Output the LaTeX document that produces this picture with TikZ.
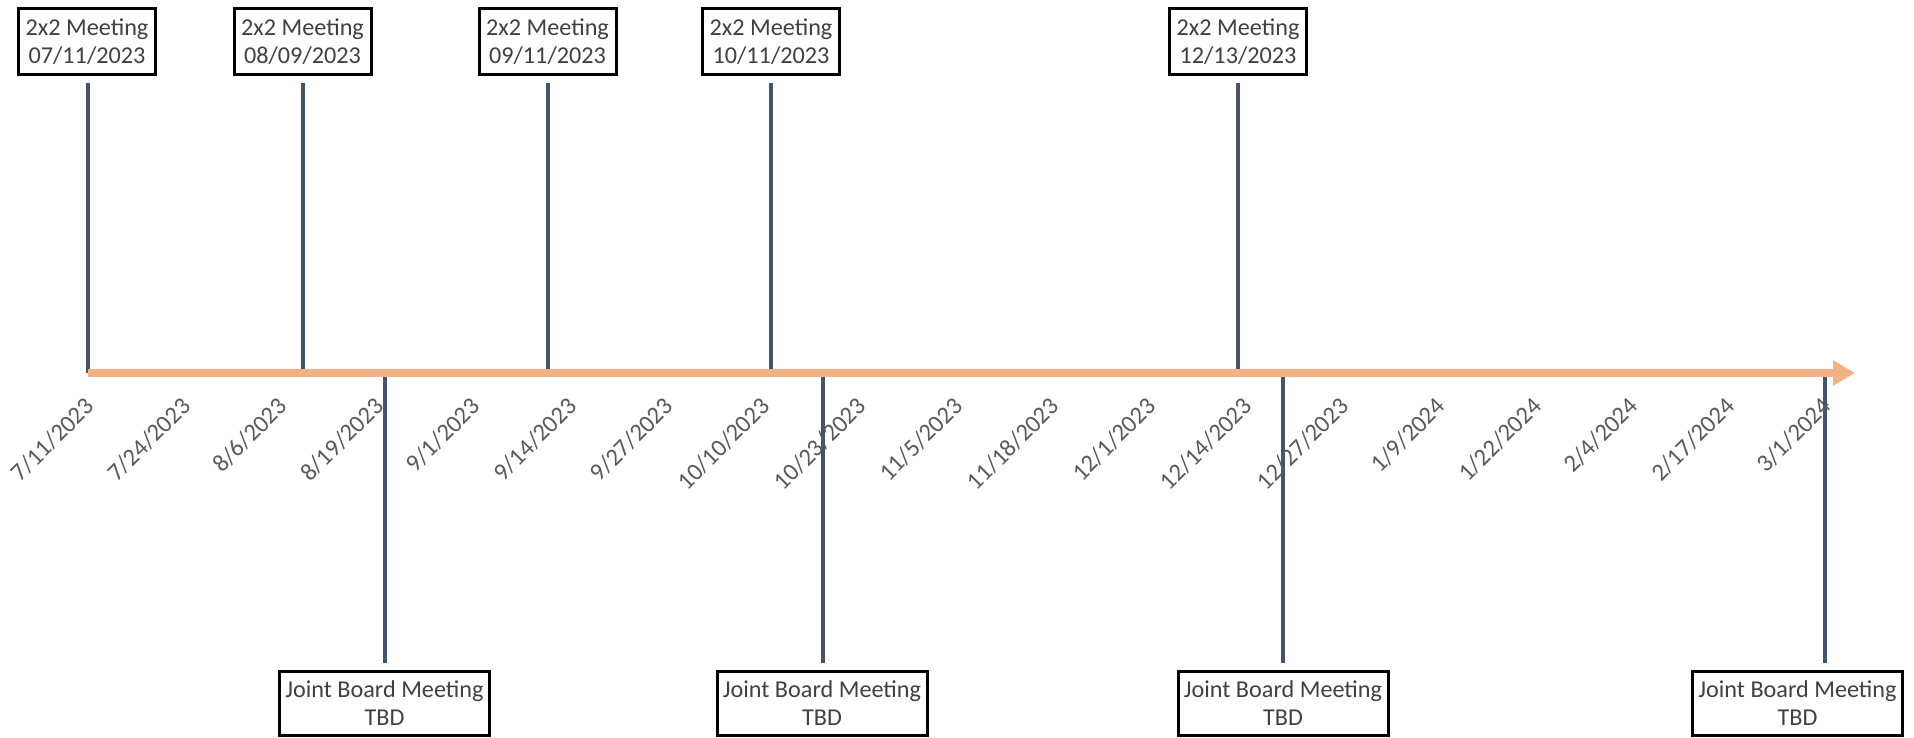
\documentclass[tikz,border=0pt]{standalone}
\usepackage{fontspec}
\setmainfont{Carlito}
\usetikzlibrary{arrows.meta}
\definecolor{vl}{HTML}{44546A}
\definecolor{ax}{HTML}{F4B183}
\definecolor{txt}{HTML}{404040}
\definecolor{lbl}{HTML}{595959}
\begin{document}
\begin{tikzpicture}[x=1pt,y=-1pt,
  topbox/.style={draw=black, line width=3pt, fill=white, minimum width=137pt, minimum height=66pt, inner sep=0pt, align=center, text=txt, font=\fontsize{24.2}{28}\selectfont},
  botbox/.style={draw=black, line width=3pt, fill=white, minimum width=210pt, minimum height=64pt, inner sep=0pt, align=center, text=txt, font=\fontsize{24.2}{28}\selectfont},
  vline/.style={draw=vl, line width=4pt},
  axisline/.style={draw=ax, line width=8pt, -{Triangle[length=22pt,width=24pt]}},
  datelbl/.style={rotate=45, anchor=east, inner sep=0pt, text=lbl, font=\fontsize{24.5}{28}\selectfont}]
\useasboundingbox (0,0) rectangle (1914,738);

% axis reference points
\coordinate (a0) at (88,373);
\coordinate (aend) at (1855,373);
\coordinate (at1) at (88,373);
\coordinate (at2) at (303,373);
\coordinate (at3) at (548,373);
\coordinate (at4) at (771,373);
\coordinate (at5) at (1238,373);
\coordinate (ab1) at (385,373);
\coordinate (ab2) at (823,373);
\coordinate (ab3) at (1283,373);
\coordinate (ab4) at (1825,373);

% top boxes
\node[topbox] (t1) at (87,41.5) {2x2 Meeting\\07/11/2023};
\node[topbox] (t2) at (302.5,41.5) {2x2 Meeting\\08/09/2023};
\node[topbox] (t3) at (547.5,41.5) {2x2 Meeting\\09/11/2023};
\node[topbox] (t4) at (771,41.5) {2x2 Meeting\\10/11/2023};
\node[topbox] (t5) at (1238,41.5) {2x2 Meeting\\12/13/2023};

% bottom boxes
\node[botbox] (b1) at (384.5,703.5) {Joint Board Meeting\\TBD};
\node[botbox] (b2) at (822,703.5) {Joint Board Meeting\\TBD};
\node[botbox] (b3) at (1283,703.5) {Joint Board Meeting\\TBD};
\node[botbox] (b4) at (1797.5,703.5) {Joint Board Meeting\\TBD};

% vertical connectors
\foreach \i in {1,...,5}{
  \draw[vline] ([yshift=-7pt]t\i.south -| at\i) -- (at\i);
}
\foreach \i in {1,...,4}{
  \draw[vline] (ab\i) -- ([yshift=7pt]b\i.north -| ab\i);
}

% axis
\draw[axisline] (a0) -- (aend);

% date labels
\foreach [count=\k from 0] \d in {7/11/2023,7/24/2023,8/6/2023,8/19/2023,9/1/2023,9/14/2023,9/27/2023,10/10/2023,10/23/2023,11/5/2023,11/18/2023,12/1/2023,12/14/2023,12/27/2023,1/9/2024,1/22/2024,2/4/2024,2/17/2024,3/1/2024}{
  \node[datelbl] (d\k) at ({90+\k*96.5},402) {\d};
}
\end{tikzpicture}
\end{document}
